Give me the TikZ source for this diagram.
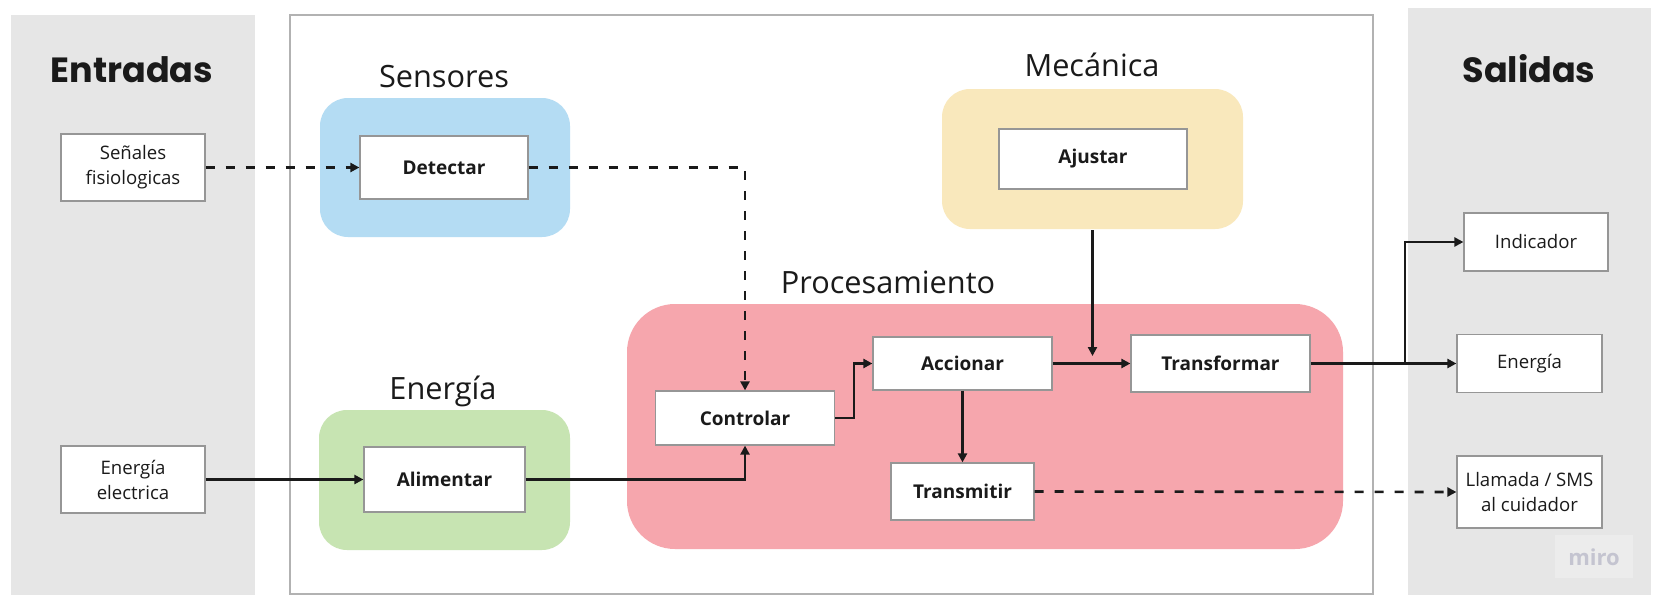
\documentclass[tikz,border=0pt]{standalone}
\usepackage{fontspec}
\usepackage{tikz}
\usetikzlibrary{arrows.meta}
\setmainfont{Open Sans}
\newfontfamily\headfont{Poppins}
\definecolor{panelgrey}{RGB}{230, 230, 230}
\definecolor{framegrey}{RGB}{178, 178, 178}
\definecolor{boxgrey}{RGB}{150, 150, 150}
\definecolor{inkdark}{RGB}{26, 26, 26}
\definecolor{sensblue}{RGB}{180, 220, 243}
\definecolor{enegreen}{RGB}{199, 228, 178}
\definecolor{mecyellow}{RGB}{249, 232, 188}
\definecolor{procpink}{RGB}{246, 166, 173}
\definecolor{mirogrey}{RGB}{196, 196, 208}
\def\bodyfont{\fontsize{18.6}{25}\selectfont}
\def\labelfont{\fontsize{19}{25}\selectfont\bfseries}
\def\titlefont{\fontsize{30.7}{36}\selectfont}
\def\panelfont{\fontsize{35}{40}\selectfont\headfont\bfseries}

\begin{document}
\begin{tikzpicture}[x=1pt, y=-1pt, line width=2.6pt, text=inkdark,
    inbox/.style={draw=boxgrey, line width=1.2pt, fill=white, inner sep=0pt,
        align=center, font=\bodyfont},
    fnbox/.style={draw=boxgrey, line width=1.2pt, fill=white, inner sep=0pt,
        align=center, font=\labelfont},
    group/.style={rounded corners=28pt, inner sep=0pt},
    flow/.style={-{Triangle[length=9pt, width=9pt]}, draw=inkdark},
    signal/.style={flow, dash pattern=on 9pt off 11pt}]

    \useasboundingbox (0,0) rectangle (1659,602);
    \fill[white] (0,0) rectangle (1659,602);

    \fill[panelgrey] (11,15) rectangle (255,595);
    \fill[panelgrey] (1408,8) rectangle (1651,595);
    \draw[framegrey, line width=1.4pt] (290,15) rectangle (1373,594);

    \node[font=\panelfont, anchor=base] (entradas) at (132,82) {Entradas};
    \node[font=\panelfont, anchor=base] (salidas) at (1529,82) {Salidas};

    \node[group, fill=sensblue, minimum width=250pt, minimum height=139pt] (sensores) at (445,167.5) {};
    \node[group, fill=enegreen, minimum width=251pt, minimum height=140pt] (energia) at (444.5,480) {};
    \node[group, fill=mecyellow, minimum width=301pt, minimum height=140pt] (mecanica) at (1092.5,159) {};
    \node[group, fill=procpink, rounded corners=48pt, minimum width=716pt, minimum height=245pt] (procesamiento) at (985,426.5) {};

    \node[font=\titlefont, anchor=base] (tsensores) at (444,87) {Sensores};
    \node[font=\titlefont, anchor=base] (tenergia) at (443,399) {Energía};
    \node[font=\titlefont, anchor=base] (tmecanica) at (1092,77) {Mecánica};
    \node[font=\titlefont, anchor=base] (tprocesamiento) at (888,293) {Procesamiento};

    \node[inbox, minimum width=144pt, minimum height=67pt] (senales) at (133,167.5) {Señales\\fisiologicas};
    \node[inbox, minimum width=144pt, minimum height=67pt] (electrica) at (133,479.5) {Energía\\electrica};

    \node[fnbox, minimum width=168pt, minimum height=63pt] (detectar) at (444,167.5) {Detectar};
    \node[fnbox, minimum width=161pt, minimum height=65pt] (alimentar) at (444.5,479.5) {Alimentar};
    \node[fnbox, minimum width=188pt, minimum height=60pt] (ajustar) at (1093,159) {Ajustar};
    \node[fnbox, minimum width=179pt, minimum height=54pt] (controlar) at (745,418) {Controlar};
    \node[fnbox, minimum width=179pt, minimum height=53pt] (accionar) at (962.5,363.5) {Accionar};
    \node[fnbox, minimum width=143pt, minimum height=57pt] (transmitir) at (962.5,491.5) {Transmitir};
    \node[fnbox, minimum width=179pt, minimum height=57pt] (transformar) at (1220.5,363.5) {Transformar};

    \node[inbox, minimum width=144pt, minimum height=58pt] (indicador) at (1536,242) {Indicador};
    \node[inbox, minimum width=145pt, minimum height=58pt] (energiasal) at (1529.5,363.5) {Energía};
    \node[inbox, minimum width=145pt, minimum height=72pt] (llamada) at (1529.5,492) {Llamada / SMS\\al cuidador};

    \fill[white, opacity=0.25] (1555,535) rectangle (1633,578);
    \node[font=\fontsize{22}{22}\selectfont\bfseries, text=mirogrey] (miro) at (1594,557) {miro};

    \coordinate (ajustarin) at (1092.5,356);
    \coordinate (split) at (1405,363.5);

    \draw[signal] (senales.east) -- (detectar.west);
    \draw[signal] (detectar.east) -| (controlar.north);
    \draw[flow] (electrica.east) -- (alimentar.west);
    \draw[flow] (alimentar.east) -| (controlar.south);
    \draw[flow] (controlar.east) -- ++(19,0) |- (accionar.west);
    \draw[flow] (accionar.south) -- (transmitir.north);
    \draw[flow] (accionar.east) -- (transformar.west);
    \draw[flow] (mecanica.south) -- (ajustarin);
    \draw[flow] (transformar.east) -- (energiasal.west);
    \draw[flow] (split) |- (indicador.west);
    \draw[signal] (transmitir.east) -- (llamada.west);

\end{tikzpicture}
\end{document}
